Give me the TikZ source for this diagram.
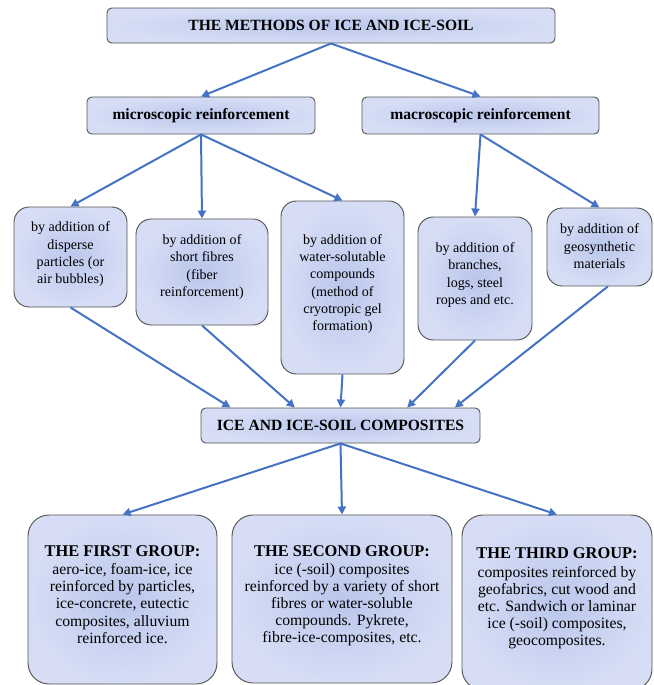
\documentclass[tikz,border=0pt]{standalone}
\usepackage{fontspec}
\setmainfont{Liberation Serif}
\usetikzlibrary{positioning,calc,arrows.meta}
\definecolor{boxin}{HTML}{BAC7EC}
\definecolor{boxout}{HTML}{D6DDF5}
\definecolor{boxline}{HTML}{555555}
\definecolor{arrblue}{HTML}{4472C4}

\begin{document}
\begin{tikzpicture}[
    head/.style={draw=boxline, line width=0.8pt, rounded corners=4pt, shade, inner color=boxin, outer color=boxout, inner sep=0pt, font=\fontsize{13.3}{15}\selectfont\bfseries},
    way/.style={draw=boxline, line width=0.8pt, rounded corners=13pt, shade, inner color=boxin, outer color=boxout},
    grp/.style={way, rounded corners=18pt},
    txt/.style={align=center, font=\fontsize{12}{14.8}\selectfont},
    gtxt/.style={align=center, font=\fontsize{13.4}{14.6}\selectfont},
    arr/.style={draw=arrblue, line width=1.7pt, -{Triangle[length=2.4mm,width=2.4mm]}}
  ]
		\useasboundingbox (0,0) rectangle (19.59,-20.55);
		% headers
		\node[head, minimum width=13.44cm, minimum height=1.05cm] (Top) at (9.93,-0.765) {THE METHODS OF ICE AND ICE-SOIL};
		\node[head, minimum width=6.84cm, minimum height=1.11cm] (Micro) at (6.03,-3.465) {microscopic reinforcement};
		\node[head, minimum width=7.11cm, minimum height=1.11cm] (Macro) at (14.415,-3.465) {macroscopic reinforcement};
		\node[head, minimum width=8.37cm, minimum height=1.05cm] (Comp) at (10.215,-12.765) {ICE AND ICE-SOIL COMPOSITES};
		% ways of reinforcement
		\node[way, minimum width=3.39cm, minimum height=3cm] (Disp) at (2.115,-7.71) {};
		\node[way, minimum width=3.96cm, minimum height=3.18cm] (Fibr) at (6.06,-8.16) {};
		\node[way, minimum width=3.69cm, minimum height=5.19cm] (Watr) at (10.275,-8.625) {};
		\node[way, minimum width=3.42cm, minimum height=3.69cm] (Bran) at (14.25,-8.355) {};
		\node[way, minimum width=3.15cm, minimum height=2.34cm] (Geos) at (17.985,-7.41) {};
		\node[txt] (DispT) at ([yshift=0.08cm]Disp) {by addition of\\disperse\\particles (or\\air bubbles)};
		\node[txt] (FibrT) at ([yshift=0.15cm]Fibr) {by addition of\\short fibres\\(fiber\\reinforcement)};
		\node[txt] (WatrT) at ([yshift=0.1cm]Watr) {by addition of\\water-solutable\\compounds\\(method of\\cryotropic gel\\formation)};
		\node[txt] (BranT) at ([yshift=0.1cm]Bran) {by addition of\\branches,\\logs, steel\\ropes and etc.};
		\node[txt] (GeosT) at ([yshift=0.02cm]Geos) {by addition of\\geosynthetic\\materials};
		% groups
		\node[grp, minimum width=5.67cm, minimum height=5.07cm] (First) at (3.675,-17.985) {};
		\node[grp, minimum width=6.6cm, minimum height=5.04cm] (Second) at (10.26,-17.97) {};
		\node[grp, minimum width=5.7cm, minimum height=5.25cm] (Third) at (16.71,-18.075) {};
		\node[gtxt] (FirstT) at ([yshift=0.15cm]First) {\textbf{\fontsize{14}{14}\selectfont THE FIRST GROUP:}\\[1pt]aero-ice, foam-ice, ice\\reinforced by particles,\\ice-concrete, eutectic\\composites, alluvium\\reinforced ice.};
		\node[gtxt] (SecondT) at ([yshift=0.1cm]Second) {\textbf{\fontsize{14}{14}\selectfont THE SECOND GROUP:}\\[1pt]ice (-soil) composites\\reinforced by a variety of short\\fibres or water-soluble\\compounds. Pykrete,\\fibre-ice-composites, etc.};
		\node[gtxt] (ThirdT) at ([yshift=0.12cm]Third) {\textbf{\fontsize{14}{14}\selectfont THE THIRD GROUP:}\\[1pt]composites reinforced by\\geofabrics, cut wood and\\etc. Sandwich or laminar\\ice (-soil) composites,\\geocomposites.};
		% arrows
		\draw[arr] (Top.south) -- (Micro.north);
		\draw[arr] (Top.south) -- (Macro.north);
		\draw[arr] (Micro.south) -- (Disp.north);
		\draw[arr] (Micro.south) -- (Fibr.north);
		\draw[arr] (Micro.south) -- (Watr.north);
		\draw[arr] (Macro.south) -- (Bran.north);
		\draw[arr] (Macro.south) -- (Geos.north);
		\draw[arr] (Disp.south) -- ([xshift=-3.3cm]Comp.north);
		\draw[arr] (Fibr.south) -- ([xshift=-1.37cm]Comp.north);
		\draw[arr] (Watr.south) -- (Comp.north);
		\draw[arr] (Bran.south) -- ([xshift=2cm]Comp.north);
		\draw[arr] ([xshift=0.25cm]Geos.south) -- ([xshift=3.43cm]Comp.north);
		\draw[arr] (Comp.south) -- (First.north);
		\draw[arr] (Comp.south) -- (Second.north);
		\draw[arr] (Comp.south) -- (Third.north);
	\end{tikzpicture}
\end{document}
